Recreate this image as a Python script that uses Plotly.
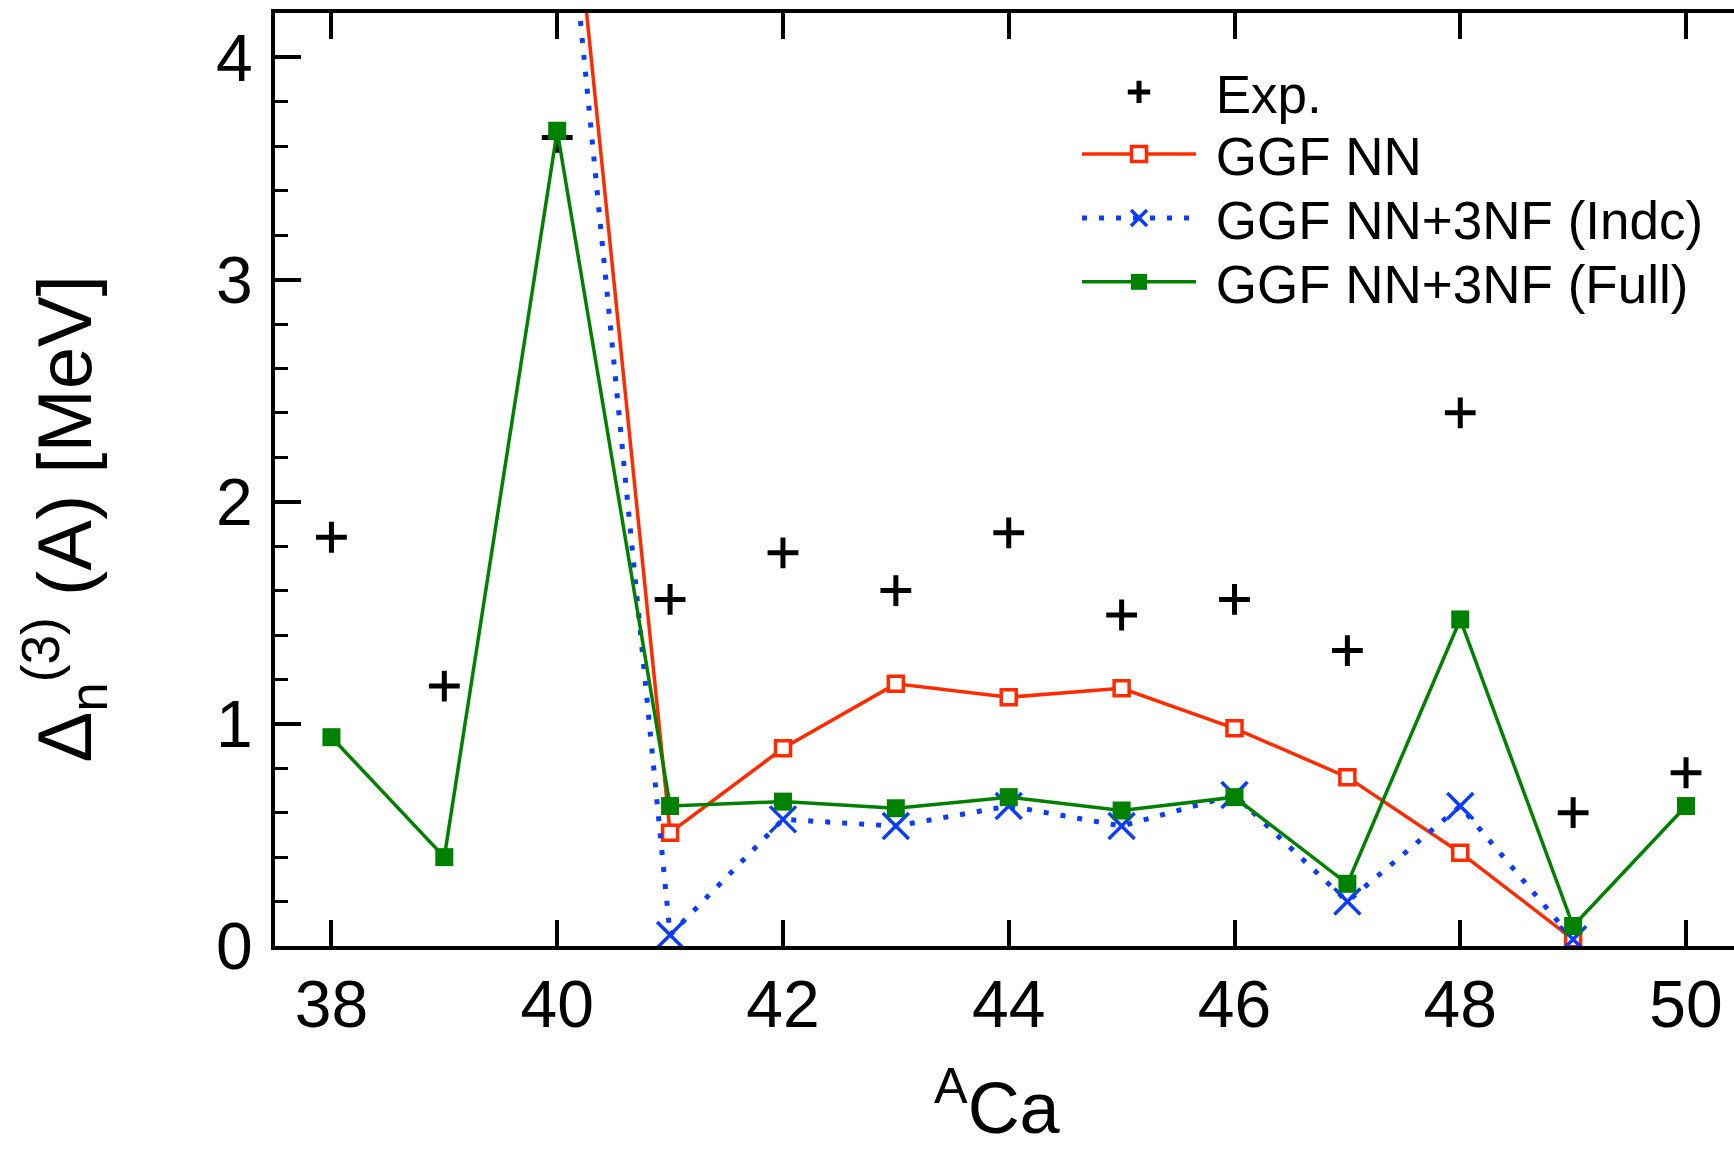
import plotly.graph_objects as go

# ---- data ----
A_exp = [38, 39, 40, 41, 42, 43, 44, 45, 46, 47, 48, 49, 50]
exp_vals = [1.84, 1.17, 3.64, 1.56, 1.77, 1.60, 1.86, 1.49, 1.56, 1.33, 2.40, 0.60, 0.78]

A_nn = [40, 41, 42, 43, 44, 45, 46, 47, 48, 49]
nn_vals = [5.5, 0.51, 0.89, 1.18, 1.12, 1.16, 0.98, 0.76, 0.42, 0.03]

A_indc = [40, 41, 42, 43, 44, 45, 46, 47, 48, 49]
indc_vals = [5.23, 0.05, 0.57, 0.54, 0.63, 0.54, 0.68, 0.20, 0.63, 0.03]

A_full = [38, 39, 40, 41, 42, 43, 44, 45, 46, 47, 48, 49, 50]
full_vals = [0.94, 0.40, 3.67, 0.63, 0.65, 0.62, 0.67, 0.61, 0.67, 0.28, 1.47, 0.09, 0.63]

x_ticks = [38, 40, 42, 44, 46, 48, 50]
y_ticks = [0, 1, 2, 3, 4]

names = ["Exp.", "GGF NN", "GGF NN+3NF (Indc)", "GGF NN+3NF (Full)"]

RED = "#ff2a00"
BLUE = "#0a3cff"
GREEN = "#008200"
FONT = "Liberation Sans, Arial, Helvetica, sans-serif"
NB = "\u00a0"

fig = go.Figure()
fig.add_trace(go.Scatter(
    x=A_exp, y=exp_vals, mode="markers", name=NB + names[0], legend="legend",
    marker=dict(symbol="cross-thin", size=22, color="black",
                line=dict(color="black", width=5)),
))
fig.add_trace(go.Scatter(
    x=A_nn, y=nn_vals, mode="lines+markers", name=NB + names[1], legend="legend2",
    line=dict(color=RED, width=3.5),
    marker=dict(symbol="square", size=15, color="white",
                line=dict(color=RED, width=3.5)),
))
fig.add_trace(go.Scatter(
    x=A_indc, y=indc_vals, mode="lines+markers", name=NB + names[2], legend="legend3",
    line=dict(color=BLUE, width=5, dash="5px,12px"),
    marker=dict(symbol="x-thin", size=26, color=BLUE,
                line=dict(color=BLUE, width=3.5)),
))
fig.add_trace(go.Scatter(
    x=A_full, y=full_vals, mode="lines+markers", name=NB + names[3], legend="legend4",
    line=dict(color=GREEN, width=3.5),
    marker=dict(symbol="square", size=18, color=GREEN,
                line=dict(color=GREEN, width=0)),
))

row_y = [0.9154, 0.8489, 0.7803, 0.7118]


def leg(yv):
    return dict(
        x=0.5497, xanchor="left", y=yv, yanchor="middle",
        bgcolor="rgba(0,0,0,0)", borderwidth=0,
        font=dict(family=FONT, size=53, color="black"),
        itemwidth=114,
    )


fig.update_layout(
    width=1734, height=1151,
    margin=dict(l=275, r=0, t=13, b=205, pad=0),
    paper_bgcolor="white", plot_bgcolor="white",
    font=dict(family=FONT, color="black", size=66),
    showlegend=True,
    legend=leg(row_y[0]),
    legend2=leg(row_y[1]),
    legend3=leg(row_y[2]),
    legend4=leg(row_y[3]),
    xaxis=dict(
        range=[37.5, 50.425], tickmode="array", tickvals=x_ticks,
        ticks="inside", ticklen=26, tickwidth=3.5, tickcolor="black",
        showline=True, linewidth=4, linecolor="black", mirror="ticks",
        showgrid=False, zeroline=False,
        tickfont=dict(family=FONT, size=66, color="black"),
        ticklabelstandoff=-2,
    ),
    yaxis=dict(
        range=[0, 4.2], tickmode="array", tickvals=y_ticks,
        ticks="inside", ticklen=26, tickwidth=3.5, tickcolor="black",
        minor=dict(dtick=0.2, ticks="inside", ticklen=13, tickwidth=3, tickcolor="black"),
        showline=True, linewidth=4, linecolor="black",
        showgrid=False, zeroline=False,
        tickfont=dict(family=FONT, size=66, color="black"),
        ticklabelstandoff=5,
    ),
    annotations=[
        dict(text="Δ<sub>n</sub><sup>(3)</sup> (A) [MeV]", textangle=-90,
             xref="paper", yref="paper", x=-0.144, y=0.458,
             xanchor="center", yanchor="middle", showarrow=False,
             font=dict(family=FONT, size=76, color="black")),
        dict(text="<sup>A</sup>Ca",
             xref="paper", yref="paper", x=0.4955, y=-0.168,
             xanchor="center", yanchor="middle", showarrow=False,
             font=dict(family=FONT, size=72, color="black")),
    ],
)

fig.write_html("out.html")
